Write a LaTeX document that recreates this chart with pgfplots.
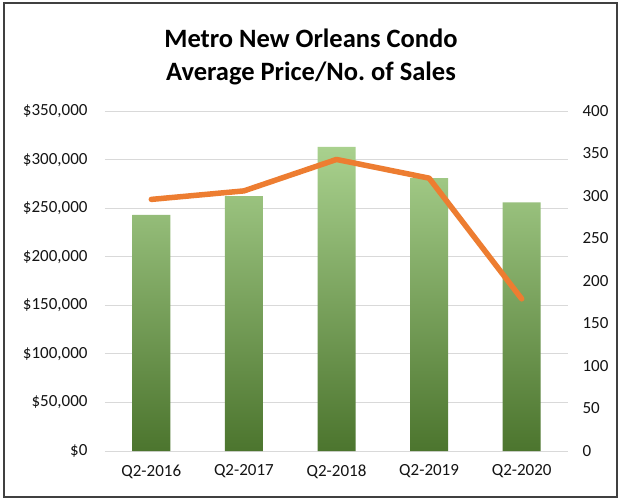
\documentclass[border=0pt]{standalone}
\usepackage{pgfplots}
\pgfplotsset{compat=1.18}
\usepackage{fontspec}
\setmainfont{Carlito}
\definecolor{barTop}{RGB}{169,209,142}
\definecolor{barMid}{RGB}{112,173,71}
\definecolor{barBot}{RGB}{76,117,46}
\definecolor{lineOr}{RGB}{237,125,49}
\definecolor{gridc}{RGB}{217,217,217}
\definecolor{txt}{RGB}{20,20,20}
\begin{document}
\begin{tikzpicture}[x=1pt,y=1pt]
\useasboundingbox (-105,-48) rectangle (516,451);
\fill[white] (-105,-48) rectangle (516,451);
\draw[line width=1.2pt, black!75] (-101,-46) rectangle (512,448);
\node[font=\bfseries\fontsize{26.5}{33}\selectfont, align=center, text=black] at (206,394.5) {Metro New Orleans Condo\\Average Price/No.\ of Sales};
\begin{axis}[
  at={(0,0)}, anchor=south west, scale only axis,
  width=463pt, height=340pt,
  xmin=-0.5, xmax=4.5, ymin=0, ymax=350000,
  scaled y ticks=false,
  xtick={0,1,2,3,4},
  xticklabels={Q2-2016,Q2-2017,Q2-2018,Q2-2019,Q2-2020},
  ytick={0,50000,100000,150000,200000,250000,300000,350000},
  yticklabels={{\$0},{\$50,000},{\$100,000},{\$150,000},{\$200,000},{\$250,000},{\$300,000},{\$350,000}},
  axis line style={draw=none},
  major tick length=0pt,
  ymajorgrids, grid style={gridc, line width=1pt},
  tick label style={font=\fontsize{17}{20}\selectfont, text=txt},
  yticklabel style={xshift=-14pt},
  xticklabel style={yshift=-10pt},
  clip=false,
]
\addplot[ybar, bar width=38pt, draw=none, top color=barTop, middle color=barMid, bottom color=barBot]
  coordinates {(0,243000) (1,262500) (2,313000) (3,281000) (4,256000)};
\end{axis}
\begin{axis}[
  at={(0,0)}, anchor=south west, scale only axis,
  width=463pt, height=340pt,
  xmin=-0.5, xmax=4.5, ymin=0, ymax=400,
  axis y line*=right, axis x line=none,
  ytick={0,50,100,150,200,250,300,350,400},
  /pgf/number format/assume math mode=true,
  axis line style={draw=none},
  major tick length=0pt,
  tick label style={font=\fontsize{17}{20}\selectfont, text=txt},
  yticklabel style={xshift=11pt},
  clip=false,
]
\addplot[lineOr, line width=5.5pt, line cap=round, line join=round]
  coordinates {(0,296) (1,306) (2,343) (3,321) (4,179)};
\end{axis}
\end{tikzpicture}
\end{document}
